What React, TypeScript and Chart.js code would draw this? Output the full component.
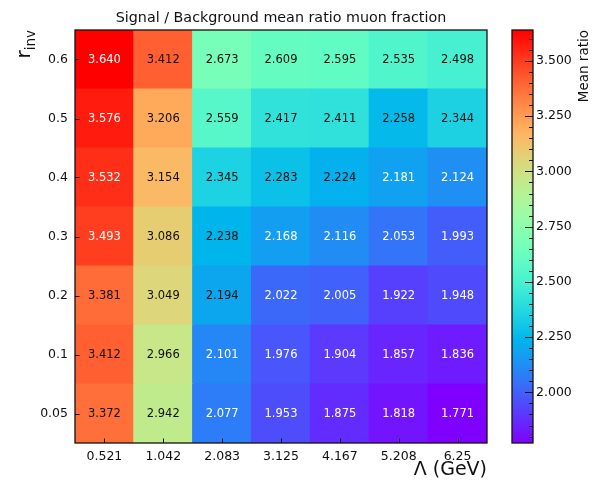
import React, { useEffect, useRef } from "react";
import { Chart, registerables } from "chart.js";

Chart.register(...registerables);

const FONT = '"DejaVu Sans", "Liberation Sans", sans-serif';

const titleText = "Signal / Background mean ratio muon fraction";
const colorbarLabel = "Mean ratio";

const lambdaLabels = ["0.521", "1.042", "2.083", "3.125", "4.167", "5.208", "6.25"];
const rinvLabels = ["0.05", "0.1", "0.2", "0.3", "0.4", "0.5", "0.6"];

const ratio_r005 = [3.372, 2.942, 2.077, 1.953, 1.875, 1.818, 1.771];
const ratio_r01 = [3.412, 2.966, 2.101, 1.976, 1.904, 1.857, 1.836];
const ratio_r02 = [3.381, 3.049, 2.194, 2.022, 2.005, 1.922, 1.948];
const ratio_r03 = [3.493, 3.086, 2.238, 2.168, 2.116, 2.053, 1.993];
const ratio_r04 = [3.532, 3.154, 2.345, 2.283, 2.224, 2.181, 2.124];
const ratio_r05 = [3.576, 3.206, 2.559, 2.417, 2.411, 2.258, 2.344];
const ratio_r06 = [3.64, 3.412, 2.673, 2.609, 2.595, 2.535, 2.498];

const ratioRows = [ratio_r005, ratio_r01, ratio_r02, ratio_r03, ratio_r04, ratio_r05, ratio_r06];

const colorbarTicks = [2.0, 2.25, 2.5, 2.75, 3.0, 3.25, 3.5];
const colorbarMinorStep = 0.05;

const allValues = ratioRows.flat();
const vmin = Math.min(...allValues);
const vmax = Math.max(...allValues);

function rainbowRGB(t: number): [number, number, number] {
  const c = (x: number) => Math.max(0, Math.min(1, x));
  const tt = c(t);
  const r = c(Math.abs(2 * tt - 0.5));
  const g = c(Math.sin(Math.PI * tt));
  const b = c(Math.cos((Math.PI * tt) / 2));
  return [r, g, b];
}
function rainbow(t: number): string {
  const [r, g, b] = rainbowRGB(t);
  return `rgb(${Math.round(r * 255)},${Math.round(g * 255)},${Math.round(b * 255)})`;
}
function norm(v: number) {
  return (v - vmin) / (vmax - vmin);
}
function textColorFor(v: number) {
  const [r, g, b] = rainbowRGB(norm(v));
  const lum = 0.299 * r + 0.587 * g + 0.114 * b;
  return lum < 0.5 ? "#ffffff" : "#111111";
}

const heatmapPlugin = {
  id: "heatmapDecor",
  afterDatasetsDraw(chart: any) {
    const { ctx } = chart;
    ctx.save();
    ctx.font = `11.5px ${FONT}`;
    ctx.textAlign = "center";
    ctx.textBaseline = "middle";
    chart.data.datasets.forEach((_ds: any, j: number) => {
      const meta = chart.getDatasetMeta(j);
      meta.data.forEach((el: any, i: number) => {
        const v = ratioRows[j][i];
        const cx = el.x;
        const cy = (el.y + el.base) / 2;
        ctx.fillStyle = textColorFor(v);
        ctx.fillText(v.toFixed(3), cx, cy + 0.5);
      });
    });
    ctx.restore();
  },
  afterDraw(chart: any) {
    const { ctx, chartArea: a, scales } = chart;
    ctx.save();
    // frame
    ctx.strokeStyle = "#111";
    ctx.lineWidth = 1.3;
    ctx.strokeRect(a.left, a.top, a.right - a.left, a.bottom - a.top);
    // inward ticks
    ctx.lineWidth = 1;
    ctx.beginPath();
    lambdaLabels.forEach((_l, i) => {
      const x = Math.round(scales.x.getPixelForTick(i)) + 0.5;
      ctx.moveTo(x, a.bottom);
      ctx.lineTo(x, a.bottom - 4.5);
    });
    rinvLabels.forEach((_l, i) => {
      const y = Math.round(scales.y.getPixelForValue(i)) + 0.5;
      ctx.moveTo(a.left, y);
      ctx.lineTo(a.left + 4.5, y);
    });
    ctx.stroke();
    // title
    ctx.fillStyle = "#111";
    ctx.font = `14.3px ${FONT}`;
    ctx.textAlign = "center";
    ctx.textBaseline = "middle";
    ctx.fillText(titleText, (a.left + a.right) / 2, 18);
    // x label
    ctx.font = `19px ${FONT}`;
    ctx.textAlign = "right";
    ctx.textBaseline = "alphabetic";
    ctx.fillText("Λ (GeV)", a.right, 475);
    // y label r_inv rotated
    ctx.save();
    ctx.translate(30, a.top);
    ctx.rotate(-Math.PI / 2);
    ctx.font = `20px ${FONT}`;
    const wr = ctx.measureText("r").width;
    ctx.font = `13.5px ${FONT}`;
    const ws = ctx.measureText("inv").width;
    const total = wr + ws;
    ctx.textAlign = "left";
    ctx.textBaseline = "alphabetic";
    ctx.font = `20px ${FONT}`;
    ctx.fillText("r", -total, 0);
    ctx.font = `13.5px ${FONT}`;
    ctx.fillText("inv", -total + wr, 4.5);
    ctx.restore();
    ctx.restore();
  },
};

const colorbarPlugin = {
  id: "colorbarDecor",
  afterDraw(chart: any) {
    const { ctx, chartArea: a, scales } = chart;
    ctx.save();
    ctx.strokeStyle = "#111";
    ctx.lineWidth = 1;
    ctx.beginPath();
    const first = Math.ceil(vmin / colorbarMinorStep);
    const last = Math.floor(vmax / colorbarMinorStep);
    for (let k = first; k <= last; k++) {
      const v = k * colorbarMinorStep;
      const isMajor = colorbarTicks.some((t) => Math.abs(t - v) < 1e-6);
      const y = Math.round(scales.y.getPixelForValue(v)) + 0.5;
      ctx.moveTo(a.right, y);
      ctx.lineTo(a.right - (isMajor ? 8 : 4), y);
    }
    ctx.stroke();
    ctx.lineWidth = 1.3;
    ctx.strokeRect(a.left, a.top, a.right - a.left, a.bottom - a.top);
    // label
    ctx.save();
    ctx.translate(88, a.top);
    ctx.rotate(-Math.PI / 2);
    ctx.fillStyle = "#111";
    ctx.font = `13.5px ${FONT}`;
    ctx.textAlign = "right";
    ctx.textBaseline = "alphabetic";
    ctx.fillText(colorbarLabel, 0, 0);
    ctx.restore();
    ctx.restore();
  },
};

export default function App() {
  const mainRef = useRef<HTMLCanvasElement | null>(null);
  const cbRef = useRef<HTMLCanvasElement | null>(null);

  useEffect(() => {
    if (!mainRef.current || !cbRef.current) return;

    const datasets = ratioRows.map((row, j) => ({
      label: rinvLabels[j],
      data: row.map(() => [j - 0.5, j + 0.5]),
      backgroundColor: row.map((v) => rainbow(norm(v))),
      borderWidth: 0,
      barPercentage: 1,
      categoryPercentage: 1,
      grouped: false,
      inflateAmount: 0.6,
    }));

    const main = new Chart(mainRef.current, {
      type: "bar",
      data: { labels: lambdaLabels, datasets: datasets as any },
      options: {
        responsive: false,
        animation: false,
        events: [],
        layout: { padding: { left: 0, right: 13, top: 30, bottom: 0 } },
        plugins: { legend: { display: false }, tooltip: { enabled: false }, title: { display: false } },
        scales: {
          x: {
            type: "category",
            grid: { display: false, drawTicks: false },
            border: { display: false },
            ticks: { color: "#111", font: { family: FONT, size: 12.5 }, padding: 6, maxRotation: 0 },
            afterFit: (s: any) => {
              s.height = 45;
            },
          },
          y: {
            type: "linear",
            min: -0.5,
            max: rinvLabels.length - 0.5,
            grid: { display: false, drawTicks: false },
            border: { display: false },
            afterBuildTicks: (s: any) => {
              s.ticks = rinvLabels.map((_l, i) => ({ value: i }));
            },
            ticks: {
              color: "#111",
              font: { family: FONT, size: 12.5 },
              padding: 7,
              callback: (v: any) => rinvLabels[Math.round(Number(v))] ?? "",
            },
            afterFit: (s: any) => {
              s.width = 75;
            },
          },
        },
      },
      plugins: [heatmapPlugin],
    });

    const cb = new Chart(cbRef.current, {
      type: "bar",
      data: {
        labels: ["cb"],
        datasets: [
          {
            data: [[vmin, vmax]] as any,
            backgroundColor: (c: any) => {
              const area = c.chart.chartArea;
              if (!area) return "#888";
              const g = c.chart.ctx.createLinearGradient(0, area.bottom, 0, area.top);
              for (let k = 0; k <= 40; k++) {
                const t = k / 40;
                g.addColorStop(t, rainbow(t));
              }
              return g;
            },
            borderWidth: 0,
            barPercentage: 1,
            categoryPercentage: 1,
          },
        ],
      },
      options: {
        responsive: false,
        animation: false,
        events: [],
        layout: { padding: { left: 12, right: 0, top: 30, bottom: 45 } },
        plugins: { legend: { display: false }, tooltip: { enabled: false } },
        scales: {
          x: { display: false },
          y: {
            type: "linear",
            position: "right",
            min: vmin,
            max: vmax,
            grid: { display: false, drawTicks: false },
            border: { display: false },
            afterBuildTicks: (s: any) => {
              s.ticks = colorbarTicks.map((v) => ({ value: v }));
            },
            ticks: {
              color: "#111",
              font: { family: FONT, size: 12.5 },
              padding: 3,
              callback: (v: any) => Number(v).toFixed(3),
            },
            afterFit: (s: any) => {
              s.width = 59;
            },
          },
        },
      },
      plugins: [colorbarPlugin],
    });

    return () => {
      main.destroy();
      cb.destroy();
    };
  }, []);

  return (
    <div style={{ position: "absolute", left: 0, top: 0, width: 592, height: 488, background: "#fff" }}>
      <canvas
        ref={mainRef}
        width={500}
        height={488}
        style={{ position: "absolute", left: 0, top: 0, width: 500, height: 488 }}
      />
      <canvas
        ref={cbRef}
        width={92}
        height={488}
        style={{ position: "absolute", left: 500, top: 0, width: 92, height: 488 }}
      />
    </div>
  );
}
